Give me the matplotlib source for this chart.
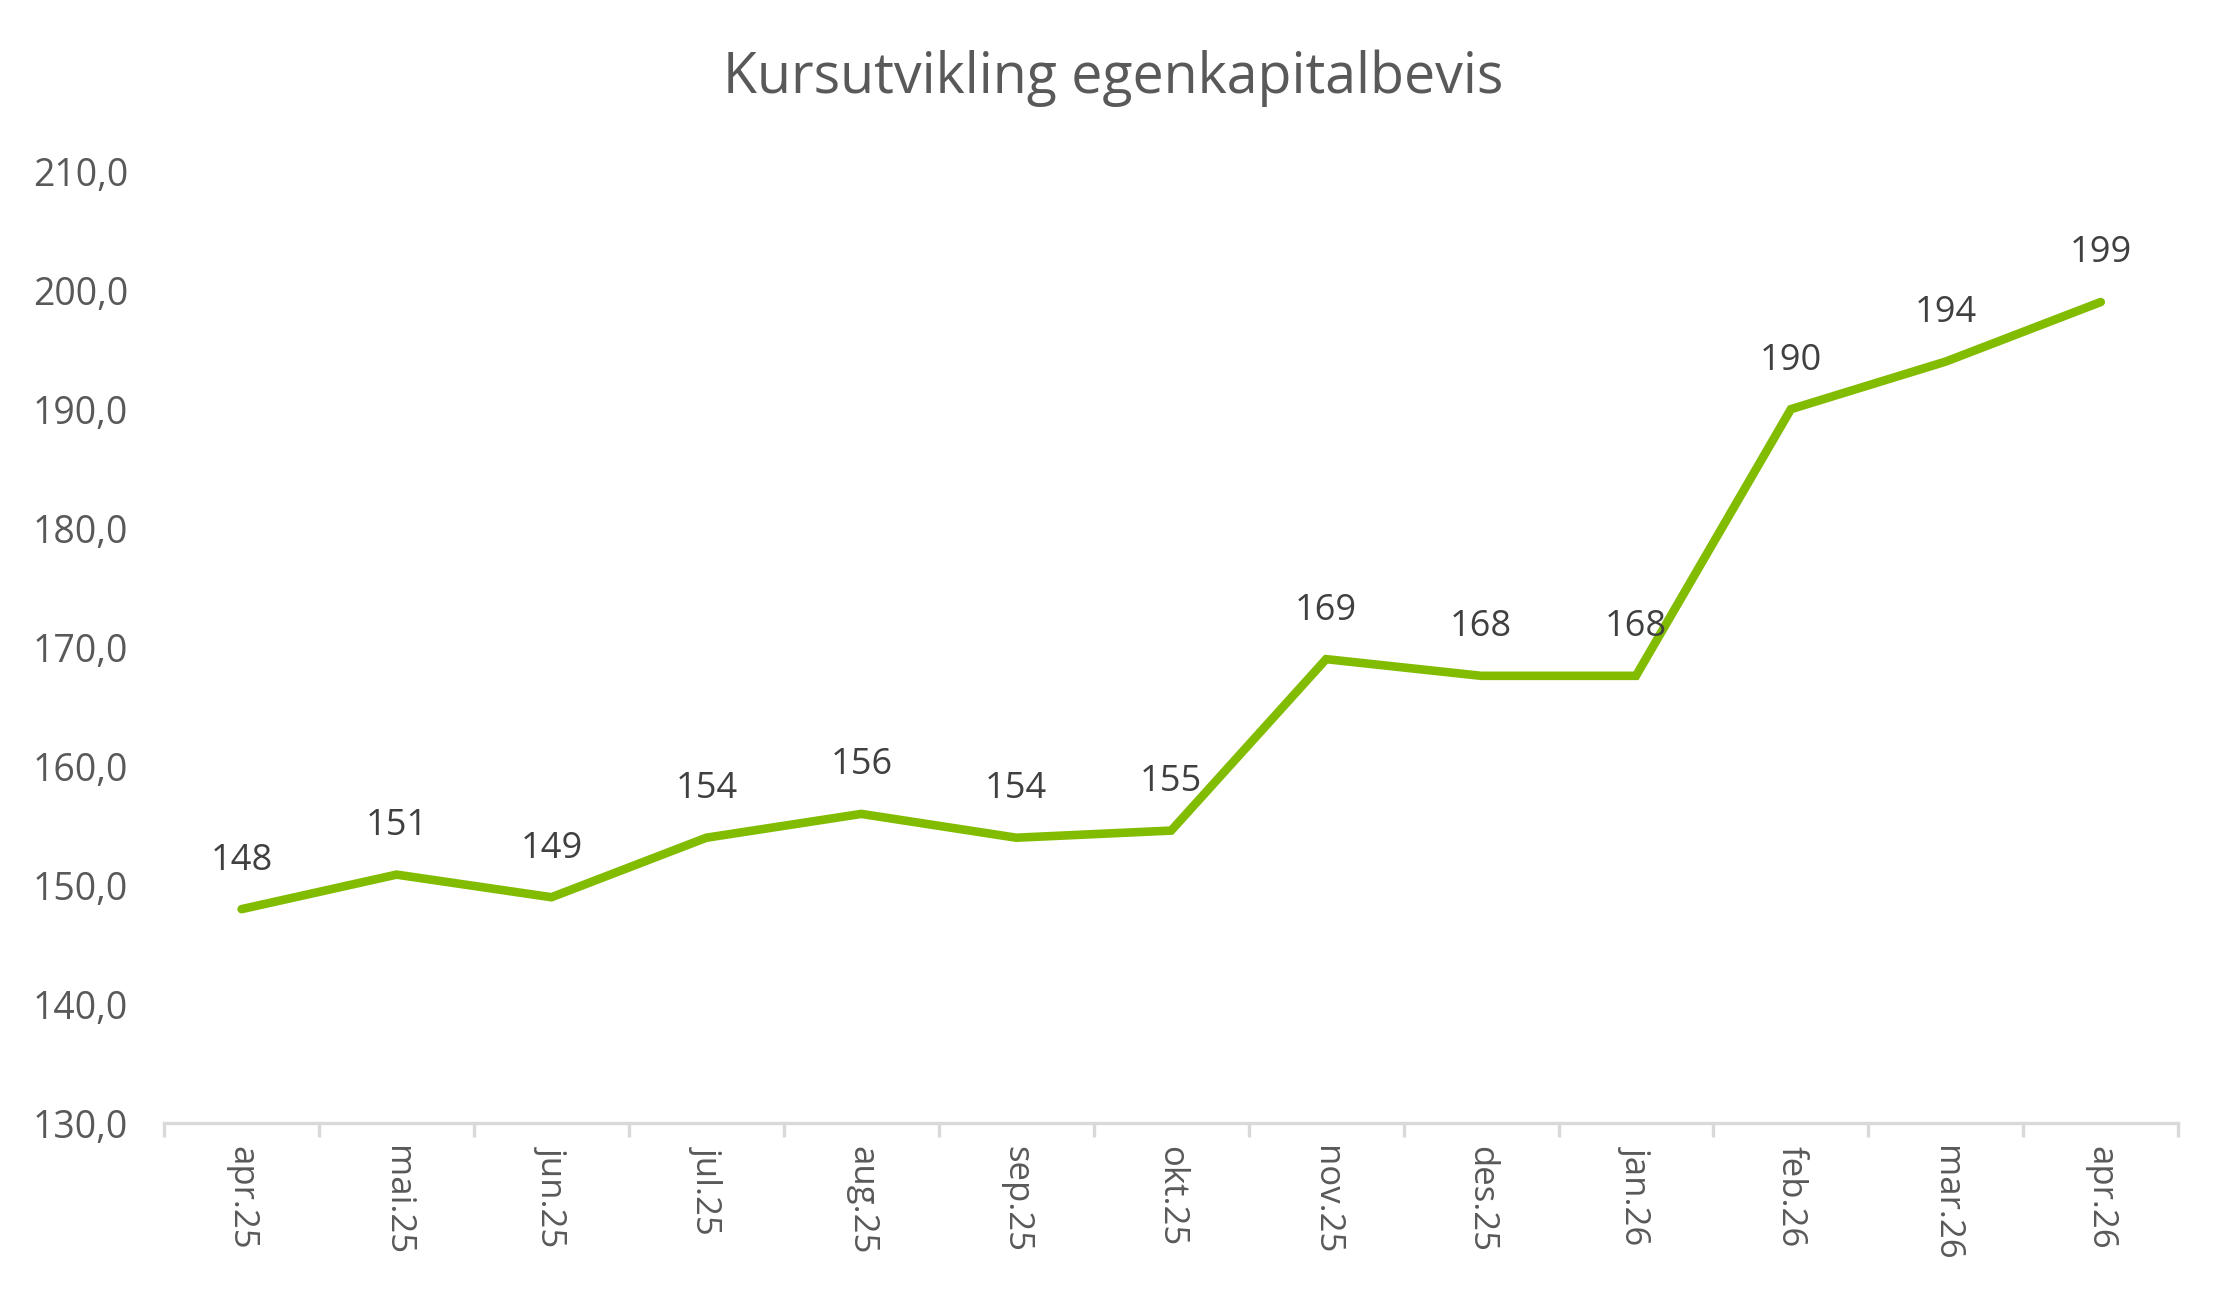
import matplotlib
matplotlib.use("Agg")
import matplotlib.pyplot as plt
from matplotlib.ticker import FixedLocator, FuncFormatter

months = ["apr.25", "mai.25", "jun.25", "jul.25", "aug.25", "sep.25", "okt.25",
          "nov.25", "des.25", "jan.26", "feb.26", "mar.26", "apr.26"]
kurs = [148.0, 150.9, 149.0, 154.0, 156.0, 154.0, 154.6,
        169.0, 167.6, 167.6, 190.0, 194.0, 199.0]
labels = ["148", "151", "149", "154", "156", "154", "155",
          "169", "168", "168", "190", "194", "199"]

plt.rcParams['font.family'] = ['Open Sans', 'DejaVu Sans']

fig = plt.figure(figsize=(11.135, 6.49), dpi=200)
ax = fig.add_axes([0.0737, 0.1345, 0.9044, 0.7337])

x = list(range(len(months)))
ax.plot(x, kurs, color='#82BC00', linewidth=3.1, solid_joinstyle='miter', solid_capstyle='round')

# data labels above each point
for i, (v, t) in enumerate(zip(kurs, labels)):
    ax.annotate(t, (i, v), xytext=(0, 11), textcoords='offset points',
                ha='center', va='bottom', fontsize=13, color='#404040')

ax.set_xlim(-0.5, len(months) - 0.5)
ax.set_ylim(130, 210)
ax.set_yticks(range(130, 211, 10))
ax.yaxis.set_major_formatter(FuncFormatter(lambda v, p: f"{v:.1f}".replace('.', ',')))
ax.tick_params(axis='y', length=0, pad=13, labelsize=13.5, labelcolor='#595959')

ax.set_xticks(x)
ax.set_xticklabels(months, rotation=-90, va='top', ha='center')
ax.tick_params(axis='x', which='major', length=0, pad=8, labelsize=12.5, labelcolor='#595959')
ax.xaxis.set_minor_locator(FixedLocator([i - 0.5 for i in range(len(months) + 1)]))
ax.tick_params(axis='x', which='minor', length=5, width=1.2, color='#D9D9D9')

for s in ['top', 'right', 'left']:
    ax.spines[s].set_visible(False)
ax.spines['bottom'].set_color('#D9D9D9')
ax.spines['bottom'].set_linewidth(1.2)

fig.text(0.5, 0.94, "Kursutvikling egenkapitalbevis", ha='center', va='center',
         fontsize=20, color='#595959')

fig.savefig("out.png", dpi=200)
